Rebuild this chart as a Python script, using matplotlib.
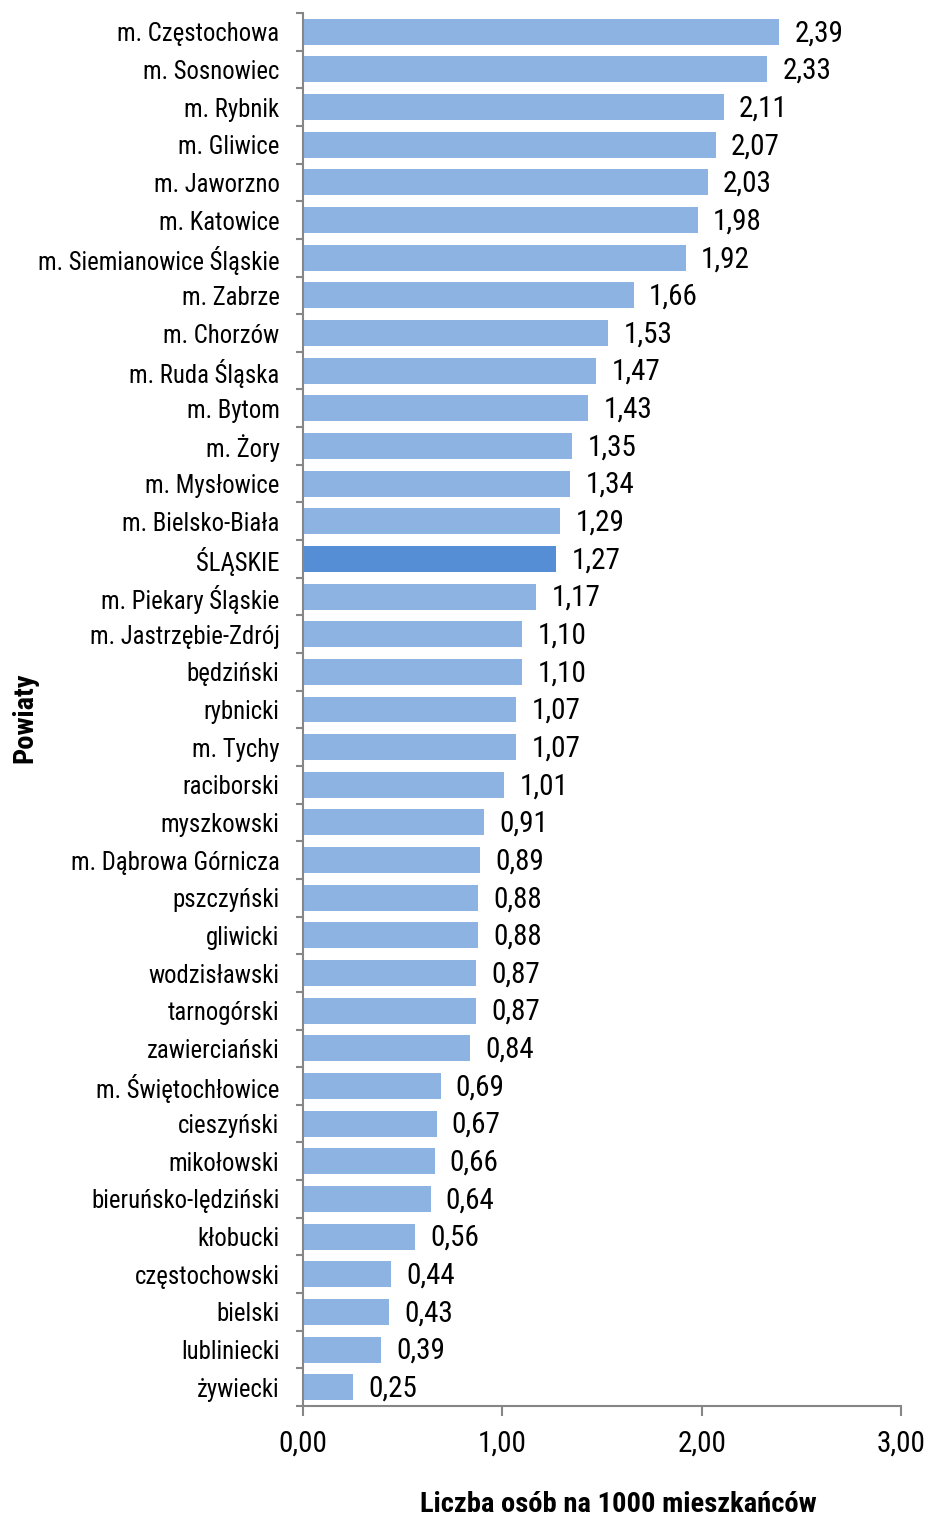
import matplotlib
matplotlib.use("Agg")
import matplotlib.pyplot as plt
from matplotlib import font_manager

names = ["m. Częstochowa", "m. Sosnowiec", "m. Rybnik", "m. Gliwice", "m. Jaworzno",
         "m. Katowice", "m. Siemianowice Śląskie", "m. Zabrze", "m. Chorzów",
         "m. Ruda Śląska", "m. Bytom", "m. Żory", "m. Mysłowice", "m. Bielsko-Biała",
         "ŚLĄSKIE", "m. Piekary Śląskie", "m. Jastrzębie-Zdrój", "będziński", "rybnicki",
         "m. Tychy", "raciborski", "myszkowski", "m. Dąbrowa Górnicza", "pszczyński",
         "gliwicki", "wodzisławski", "tarnogórski", "zawierciański", "m. Świętochłowice",
         "cieszyński", "mikołowski", "bieruńsko-lędziński", "kłobucki", "częstochowski",
         "bielski", "lubliniecki", "żywiecki"]
values = [2.39, 2.33, 2.11, 2.07, 2.03, 1.98, 1.92, 1.66, 1.53, 1.47, 1.43, 1.35, 1.34,
          1.29, 1.27, 1.17, 1.10, 1.10, 1.07, 1.07, 1.01, 0.91, 0.89, 0.88, 0.88, 0.87,
          0.87, 0.84, 0.69, 0.67, 0.66, 0.64, 0.56, 0.44, 0.43, 0.39, 0.25]
highlight = "ŚLĄSKIE"
xticks = [0, 1, 2, 3]
xlabel = "Liczba osób na 1000 mieszkańców"
ylabel = "Powiaty"

avail = {f.name for f in font_manager.fontManager.ttflist}
fam = [f for f in ["Liberation Sans Narrow", "Roboto Condensed", "Liberation Sans", "DejaVu Sans"]
       if f in avail]
plt.rcParams["font.family"] = fam

fig = plt.figure(figsize=(9.28, 15.17), dpi=100)
ax = fig.add_axes([303/928, 1-1406/1517, (901-303)/928, (1406-13)/1517])

n = len(names)
ypos = list(range(n))
colors = ["#558ED5" if c == highlight else "#8DB3E2" for c in names]
ax.barh(ypos, values, height=0.69, color=colors)
ax.set_ylim(n - 0.5, -0.5)
ax.set_xlim(0, 3)

for y, v in zip(ypos, values):
    ax.annotate(f"{v:.2f}".replace(".", ","), (v, y), xytext=(11, -1),
                textcoords="offset points", va="center", ha="left", fontsize=21)

ax.set_yticks(ypos)
ax.set_yticklabels(names, fontsize=17.8)
ax.tick_params(axis="y", length=0, pad=17)
ax.set_yticks([i - 0.5 for i in range(n + 1)], minor=True)
ax.tick_params(axis="y", which="minor", length=5, width=1.5, color="#868686")

ax.set_xticks(xticks)
ax.set_xticklabels([f"{t:.2f}".replace(".", ",") for t in xticks], fontsize=21)
ax.tick_params(axis="x", length=7, width=1.5, color="#868686", pad=10)

for s in ["top", "right"]:
    ax.spines[s].set_visible(False)
for s in ["left", "bottom"]:
    ax.spines[s].set_color("#868686")
    ax.spines[s].set_linewidth(1.5)

fig.text(618/928, 1-1505/1517, xlabel, ha="center", va="center", fontsize=20.5, fontweight="bold")
fig.text(25/928, 1-718/1517, ylabel, ha="center", va="center", fontsize=20.5,
         fontweight="bold", rotation=90)

fig.savefig("out.png", dpi=100)
